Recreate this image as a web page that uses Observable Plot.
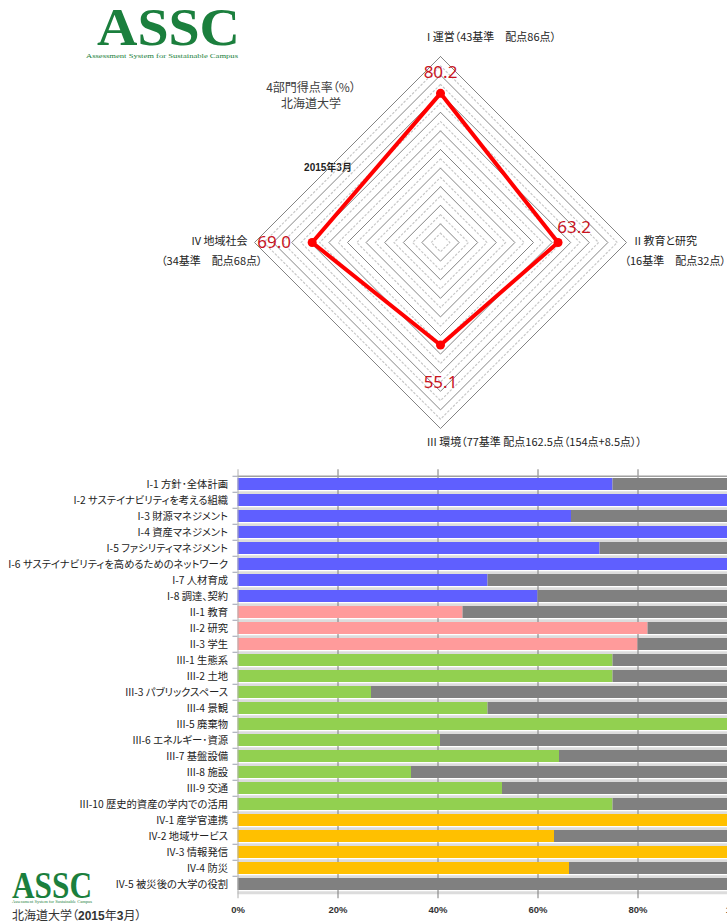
<!DOCTYPE html>
<html>
<head>
<meta charset="utf-8">
<script src="https://cdn.jsdelivr.net/npm/d3@7"></script>
<script src="https://cdn.jsdelivr.net/npm/@observablehq/plot@0.6"></script>
<style>
  html, body { margin: 0; padding: 0; background: #fff; }
  body { width: 727px; height: 922px; overflow: hidden; position: relative;
         font-family: "Noto Sans CJK JP", "Noto Sans", sans-serif; color: #333; }
  svg text { font-feature-settings: "palt"; }
  #radar { position: absolute; left: 0; top: 0; }
  #bars { position: absolute; left: 0; top: 460px; }
  .abs { position: absolute; white-space: nowrap; font-feature-settings: "palt"; }
  .b { font-family: "Liberation Sans Narrow", "Liberation Sans", sans-serif; font-weight: bold; }
</style>
</head>
<body>
<svg class="abs" style="left:80px;top:0" width="175" height="66">
  <text x="17" y="45" font-family="Liberation Serif" font-weight="bold" font-size="53" fill="#1b7f3d" textLength="143" lengthAdjust="spacingAndGlyphs">ASSC</text>
  <text x="6" y="58" font-family="Liberation Serif" font-size="6.5" fill="#1b7f3d" textLength="152" lengthAdjust="spacingAndGlyphs">Assessment System for Sustainable Campus</text>
</svg>
<div class="abs" style="left:211px;top:79px;width:200px;text-align:center;font-size:12px;line-height:16px;color:#404040">4部門得点率（%）<br>北海道大学</div>
<div class="abs" style="left:278px;top:160px;width:100px;text-align:center;font-size:10px;line-height:14px;font-weight:bold;color:#222"><span class="b">2015</span>年<span class="b">3</span>月</div>
<div id="radar"></div>
<div id="bars"></div>
<svg class="abs" style="left:0;top:866px" width="110" height="40">
  <text x="12" y="32" font-family="Liberation Serif" font-weight="bold" font-size="37" fill="#1b7f3d" textLength="80" lengthAdjust="spacingAndGlyphs">ASSC</text>
  <text x="12" y="37" font-family="Liberation Serif" font-size="3.5" fill="#1b7f3d" textLength="80" lengthAdjust="spacingAndGlyphs">Assessment System for Sustainable Campus</text>
</svg>
<div class="abs" style="left:12px;top:908px;font-size:12px;line-height:14px;color:#333">北海道大学（<span class="b">2015</span>年<span class="b">3</span>月）</div>

<script>
// ---------- data ----------
const radarNames = ["I 運営", "II 教育と研究", "III 環境", "IV 地域社会"];
const radarNotes = ["（43基準　配点86点）", "（16基準　配点32点）", "（77基準 配点162.5点（154点+8.5点））", "（34基準　配点68点）"];
const radarValues = [80.2, 63.2, 55.1, 69.0];
const ringLevels = [10, 20, 30, 40, 50, 60, 70, 80, 90, 100];
const dotLevels = [5, 15, 25, 35, 45, 55, 65, 75, 85, 95];

const barCodes = ["I-1","I-2","I-3","I-4","I-5","I-6","I-7","I-8","II-1","II-2","II-3",
  "III-1","III-2","III-3","III-4","III-5","III-6","III-7","III-8","III-9","III-10",
  "IV-1","IV-2","IV-3","IV-4","IV-5"];
const barNames = ["方針･全体計画","サステイナビリティを考える組織","財源マネジメント","資産マネジメント",
  "ファシリティマネジメント","サステイナビリティを高めるためのネットワーク","人材育成","調達、契約",
  "教育","研究","学生","生態系","土地","パブリックスペース","景観","廃棄物","エネルギー･資源",
  "基盤設備","施設","交通","歴史的資産の学内での活用","産学官連携","地域サービス","情報発信","防災",
  "被災後の大学の役割"];
const barValues = [75, 100, 66.7, 100, 72.4, 100, 50, 60, 45, 82, 80,
  75, 75, 26.7, 50, 100, 40.5, 64.3, 34.7, 52.9, 75,
  100, 63.3, 100, 66.3, 0];
const barGroups = ["I","I","I","I","I","I","I","I","II","II","II",
  "III","III","III","III","III","III","III","III","III","III",
  "IV","IV","IV","IV","IV"];
const groupNames = ["I", "II", "III", "IV"];
const groupColors = ["#5f5fff", "#ff9b9b", "#92d050", "#ffc000"];
const tickValues = [0, 20, 40, 60, 80, 100];

// ---------- helpers ----------
const SVGNS = "http://www.w3.org/2000/svg";
function styleRuns(el, bigSize, smallSize) {
  const s = el.textContent;
  while (el.firstChild) el.removeChild(el.firstChild);
  const re = /([A-Za-z0-9.+\-%]+)|([^A-Za-z0-9.+\-%]+)/g;
  let m;
  while ((m = re.exec(s))) {
    const t = document.createElementNS(SVGNS, "tspan");
    t.textContent = m[0];
    if (m[1]) {
      t.setAttribute("font-family", '"Liberation Sans Narrow","Liberation Sans",sans-serif');
      t.setAttribute("font-weight", "bold");
      t.setAttribute("font-size", smallSize);
    } else {
      t.setAttribute("font-size", bigSize);
    }
    el.appendChild(t);
  }
}

// ---------- radar ----------
const vx = (i, v) => Math.round(v * Math.sin(i * Math.PI / 2) * 1000) / 1000;
const vy = (i, v) => Math.round(v * Math.cos(i * Math.PI / 2) * 1000) / 1000;
const loop = [0, 1, 2, 3, 0];
const ringData = ringLevels.flatMap(l => loop.map(i => ({level: l, x: vx(i, l), y: vy(i, l)})));
const dotRingData = dotLevels.flatMap(l => loop.map(i => ({level: l, x: vx(i, l), y: vy(i, l)})));
const scoreData = loop.map(i => ({i, x: vx(i, radarValues[i]), y: vy(i, radarValues[i])}));

const valueLabel = (i, dx, dy) => Plot.text([i], {
  x: d => vx(d, radarValues[d]), y: d => vy(d, radarValues[d]),
  text: d => radarValues[d].toFixed(1), dx, dy,
  fill: "#c8141e", fontSize: 17, fontFamily: "Noto Sans"
});
const catLabel = (i, txt, anchor, dx, dy) => Plot.text([i], {
  x: d => vx(d, 100), y: d => vy(d, 100), text: () => txt,
  textAnchor: anchor, dx, dy, fontSize: 11, fill: "#222", ariaLabel: "cat-label"
});

const radar = Plot.plot({
  width: 727, height: 460, margin: 0,
  x: {domain: [-100, 100], range: [254, 626], axis: null},
  y: {domain: [-100, 100], range: [428, 56], axis: null},
  style: {fontFamily: '"Noto Sans CJK JP", sans-serif', background: "transparent"},
  marks: [
    Plot.line(dotRingData, {x: "x", y: "y", z: "level", stroke: "#c8c8c8", strokeWidth: 1.2, strokeDasharray: "1.5 2.5"}),
    Plot.line(ringData, {x: "x", y: "y", z: "level", stroke: "#848484", strokeWidth: 1}),
    Plot.line(scoreData, {x: "x", y: "y", stroke: "#ff0000", strokeWidth: 4, strokeLinejoin: "round"}),
    Plot.dot(scoreData.slice(0, 4), {x: "x", y: "y", r: 4.5, fill: "#ff0000"}),
    valueLabel(0, 0, -21),
    valueLabel(1, 16, -15),
    valueLabel(2, 0, 38),
    valueLabel(3, -38, 0),
    catLabel(0, radarNames[0] + radarNotes[0], "middle", 51, -19),
    catLabel(1, radarNames[1], "start", 8, -1),
    catLabel(1, radarNotes[1], "start", -2, 19),
    catLabel(2, radarNames[2] + radarNotes[2], "middle", 94, 14),
    catLabel(3, radarNames[3], "end", -7, -1),
    catLabel(3, radarNotes[3], "end", 8, 19)
  ]
});
radar.querySelectorAll('g[aria-label="cat-label"] text').forEach(t => styleRuns(t, 11, 9.5));
document.getElementById("radar").appendChild(radar);

// ---------- bars ----------
const rows = barCodes.map((c, i) => ({code: c, name: barNames[i], value: barValues[i], group: barGroups[i]}));
const step = 16.5;

const bars = Plot.plot({
  width: 727, height: 462, marginTop: 9.25, marginBottom: 23.75, marginLeft: 237.5, marginRight: 0,
  x: {domain: [0, 100], range: [237.5, 737.5], label: null},
  y: {domain: barCodes, padding: 0.26, axis: null},
  color: {domain: groupNames, range: groupColors},
  style: {fontFamily: '"Noto Sans CJK JP", sans-serif', background: "transparent", color: "#222"},
  marks: [
    Plot.ruleY(barCodes, {y: d => d, dy: step / 2, x1: 0, x2: 100, stroke: "#dcdcdc", strokeWidth: 3}),
    Plot.ruleX(tickValues.slice(1, 5), {stroke: "#7a7a7a", strokeWidth: 1}),
    Plot.barX(rows, {y: "code", x1: 0, x2: "value", fill: "group"}),
    Plot.barX(rows, {y: "code", x1: "value", x2: 100, fill: "#808080"}),
    Plot.ruleY(barCodes, {y: d => d, dy: -step / 2, x1: -1, x2: 0, stroke: "#9aa0b0", strokeWidth: 1}),
    Plot.ruleY(barCodes.slice(0, 1), {y: d => d, dy: -step / 2, x1: 0, x2: 100, stroke: "#a0a0a0", strokeWidth: 1.5}),
    Plot.ruleX([0], {stroke: "#b0b0b0", strokeWidth: 1}),
    Plot.text(rows, {y: "code", x: 0, dx: -10, textAnchor: "end", text: d => d.code + " " + d.name,
                     fontSize: 10.3, fill: "#222", ariaLabel: "y-lab"}),
    Plot.axisX({ticks: tickValues, tickFormat: d => d + "%", tickSize: 0, tickPadding: 7, fontSize: 9.5, label: null,
                fontWeight: "bold", fontFamily: '"Liberation Sans Narrow","Liberation Sans",sans-serif', fill: "#333"})
  ]
});
bars.querySelectorAll('g[aria-label="y-lab"] text').forEach(t => styleRuns(t, 10.3, 9));
document.getElementById("bars").appendChild(bars);
</script>
</body>
</html>
